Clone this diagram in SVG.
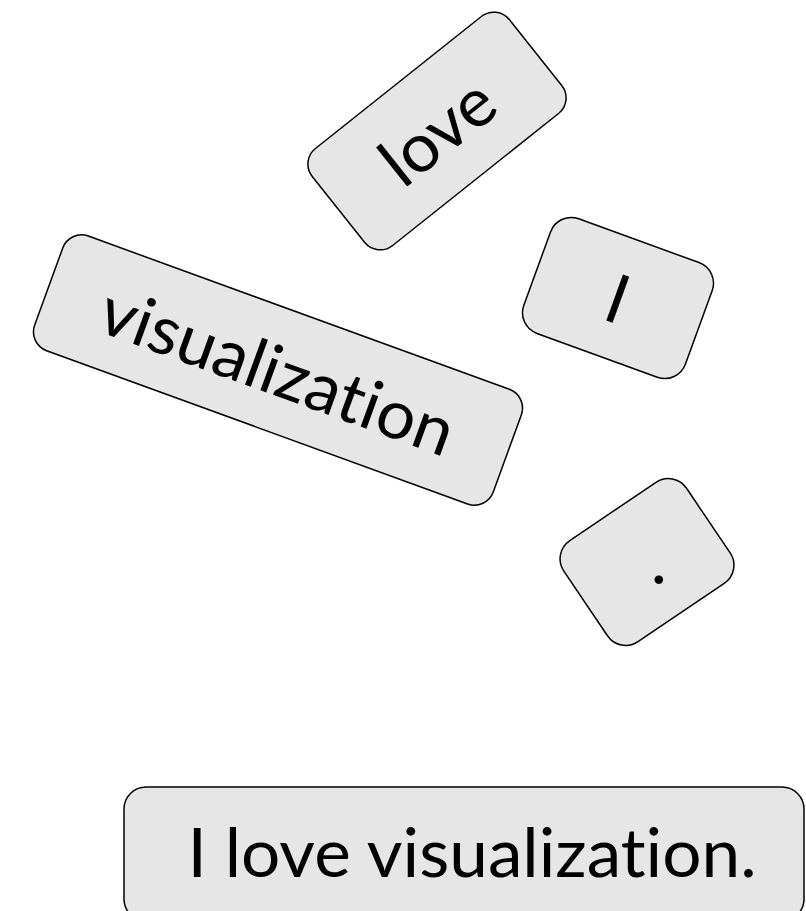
<svg xmlns="http://www.w3.org/2000/svg" width="806" height="911" viewBox="0 0 806 911">
  <style>
    .tile { fill: #e6e6e6; stroke: #000000; stroke-width: 1.5; }
    .word { font-family: "Lato", "Liberation Sans", sans-serif; font-size: 68px; fill: #000000; text-anchor: middle;
            font-variant-ligatures: none; font-feature-settings: "liga" 0, "clig" 0; }
  </style>
  <rect width="806" height="911" fill="#ffffff"/>

  <!-- scattered word tiles -->
  <g id="tile-love" transform="translate(437,131) rotate(-38.5)">
    <rect class="tile" x="-126" y="-62" width="252" height="124" rx="20"/>
    <text class="word" x="0" y="25" textLength="126" lengthAdjust="spacingAndGlyphs">love</text>
  </g>

  <g id="tile-visualization" transform="translate(278,370) rotate(20)">
    <rect class="tile" x="-244" y="-61" width="488" height="122" rx="20"/>
    <text class="word" x="0" y="25" textLength="372" lengthAdjust="spacingAndGlyphs">visualization</text>
  </g>

  <g id="tile-I" transform="translate(618,298) rotate(20)">
    <rect class="tile" x="-86" y="-61" width="172" height="122" rx="22"/>
    <text class="word" x="0" y="25">I</text>
  </g>

  <g id="tile-period" transform="translate(647,562) rotate(-34)">
    <rect class="tile" x="-74" y="-61" width="148" height="122" rx="22"/>
    <text class="word" x="0" y="25">.</text>
  </g>

  <!-- assembled sentence -->
  <g id="tile-sentence">
    <rect class="tile" x="124" y="787" width="680" height="134" rx="22"/>
    <text class="word" x="472" y="877" textLength="569" lengthAdjust="spacingAndGlyphs">I love visualization.</text>
  </g>

  <g id="connectors"/>
</svg>
